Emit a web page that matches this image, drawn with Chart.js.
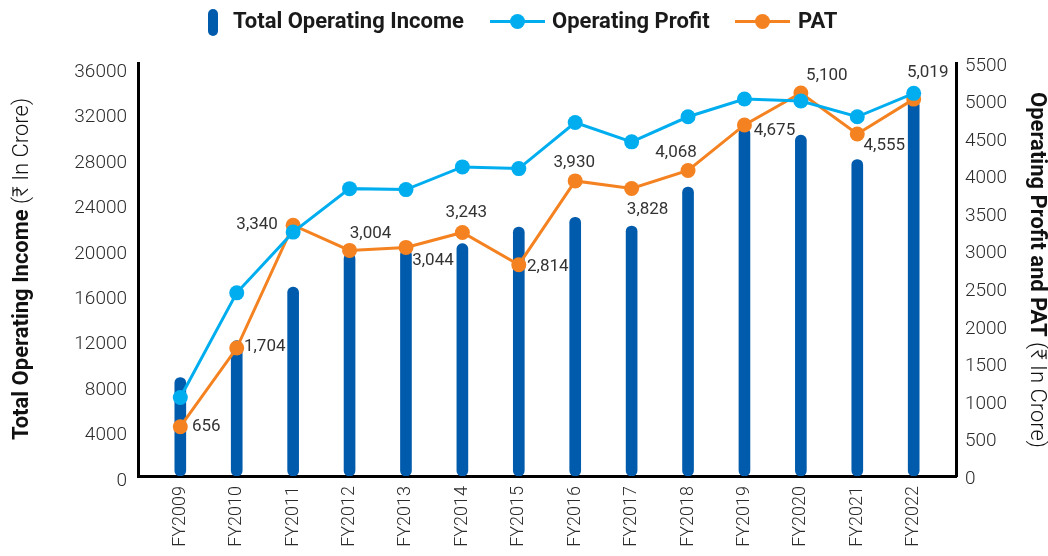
<!DOCTYPE html>
<html>
<head>
<meta charset="utf-8">
<script src="https://cdn.jsdelivr.net/npm/chart.js@4.4.1/dist/chart.umd.min.js"></script>
<style>
  html, body { margin: 0; padding: 0; background: #fff; }
  #wrap { position: relative; width: 1048px; height: 556px; overflow: hidden; }
  #chart { position: absolute; left: 0; top: 0; }
  .lg { position: absolute; font-family: Roboto, "Noto Sans", sans-serif; font-weight: 700; font-size: 22px; color: #1a1a1a; white-space: nowrap; line-height: 26px; top: 8px; }
  .pill { position: absolute; left: 208px; top: 9px; width: 10px; height: 27px; border-radius: 5px; background: #005BAC; }
  .ln { position: absolute; top: 20px; width: 55px; height: 3px; }
  .dot { position: absolute; top: 14px; width: 15px; height: 15px; border-radius: 50%; }
</style>
</head>
<body>
<div id="wrap">
  <canvas id="chart" width="1048" height="556"></canvas>
  <div class="pill"></div>
  <div class="lg" style="left:233px">Total Operating Income</div>
  <div class="ln" style="left:490px;background:#00AEEF"></div>
  <div class="dot" style="left:510px;background:#00AEEF"></div>
  <div class="lg" style="left:552px">Operating Profit</div>
  <div class="ln" style="left:735px;background:#F58220"></div>
  <div class="dot" style="left:755px;background:#F58220"></div>
  <div class="lg" style="left:798px">PAT</div>
</div>
<script>
// ---- data ----
const categories = ['FY2009','FY2010','FY2011','FY2012','FY2013','FY2014','FY2015','FY2016','FY2017','FY2018','FY2019','FY2020','FY2021','FY2022'];
const totalOperatingIncome = [8670, 11910, 16620, 19590, 19940, 20450, 21910, 22770, 22000, 25440, 30620, 30000, 27860, 33090];
const operatingProfit = [1045, 2439, 3248, 3827, 3814, 4116, 4094, 4708, 4450, 4784, 5020, 4993, 4784, 5096];
const pat = [656, 1704, 3340, 3004, 3044, 3243, 2814, 3930, 3828, 4068, 4675, 5100, 4555, 5019];
const leftTickValues = [0, 4000, 8000, 12000, 16000, 20000, 24000, 28000, 32000, 36000];
const rightTickValues = [0, 500, 1000, 1500, 2000, 2500, 3000, 3500, 4000, 4500, 5000, 5500];

// ---- label placement (style only): offset of label centre from its point ----
const patLabelOffsets = [[26,0],[28,-1],[-36,0],[21,-17],[27,13],[4,-20],[29,2],[-1,-18],[16,21],[-12,-18],[30,6],[26,-17],[27,12],[14,-26]];

const FONT = 'Roboto, "Noto Sans", sans-serif';
const C_BAR = '#005BAC', C_OP = '#00AEEF', C_PAT = '#F58220';

const fmt = v => v.toLocaleString('en-US');

const patLabels = {
  id: 'patLabels',
  afterDatasetsDraw(chart) {
    const ctx = chart.ctx;
    const meta = chart.getDatasetMeta(2);
    ctx.save();
    ctx.font = '400 17px ' + FONT;
    ctx.fillStyle = '#333';
    ctx.textAlign = 'center';
    ctx.textBaseline = 'middle';
    meta.data.forEach((pt, i) => {
      const o = patLabelOffsets[i];
      ctx.fillText(fmt(pat[i]), pt.x + o[0], pt.y + o[1]);
    });
    ctx.restore();
  }
};

const axisTitles = {
  id: 'axisTitles',
  afterDraw(chart) {
    const ctx = chart.ctx;
    function drawTitle(x, cy, rot, boldTxt, regTxt) {
      ctx.save();
      ctx.translate(x, cy);
      ctx.rotate(rot);
      ctx.textBaseline = 'middle';
      ctx.fillStyle = '#111';
      const bf = '700 22px ' + FONT, rf = '300 22px ' + FONT;
      ctx.font = bf; const wb = ctx.measureText(boldTxt).width;
      ctx.font = rf; const wr = ctx.measureText(regTxt).width;
      const start = -(wb + wr) / 2;
      ctx.textAlign = 'left';
      ctx.font = bf; ctx.fillText(boldTxt, start, 0);
      ctx.font = rf; ctx.fillText(regTxt, start + wb, 0);
      ctx.restore();
    }
    drawTitle(22, 269, -Math.PI / 2, 'Total Operating Income', ' (\u20B9 In Crore)');
    drawTitle(1036, 270, Math.PI / 2, 'Operating Profit and PAT', ' (\u20B9 In Crore)');
  }
};

const plain = v => String(v);

new Chart(document.getElementById('chart'), {
  data: {
    labels: categories,
    datasets: [
      { type: 'bar', label: 'Total Operating Income', data: totalOperatingIncome, yAxisID: 'yL',
        backgroundColor: C_BAR, barThickness: 11, borderRadius: 6, borderSkipped: false, order: 2 },
      { type: 'line', label: 'Operating Profit', data: operatingProfit, yAxisID: 'yR',
        borderColor: C_OP, backgroundColor: C_OP, borderWidth: 3, pointRadius: 7.5, pointHoverRadius: 7.5,
        pointBorderWidth: 0, tension: 0, order: 0 },
      { type: 'line', label: 'PAT', data: pat, yAxisID: 'yR',
        borderColor: C_PAT, backgroundColor: C_PAT, borderWidth: 3, pointRadius: 7.5, pointHoverRadius: 7.5,
        pointBorderWidth: 0, tension: 0, order: 1 }
    ]
  },
  options: {
    responsive: false,
    animation: false,
    layout: { padding: { top: 63, left: 0, right: 0, bottom: 0 } },
    plugins: { legend: { display: false }, tooltip: { enabled: false } },
    scales: {
      x: {
        offset: true,
        grid: { display: false, drawTicks: false },
        border: { display: true, color: '#000', width: 3 },
        ticks: { minRotation: 90, maxRotation: 90, padding: 10, color: '#2b2b2b', font: { family: FONT, size: 18, weight: 300 } },
        afterBuildTicks(scale) { scale._startValue = -0.75; scale._valueRange = categories.length + 0.5; },
        afterFit(scale) { scale.height = 556 - 476; }
      },
      yL: {
        position: 'left', min: 0, max: 36353,
        grid: { display: false, drawTicks: false },
        border: { display: true, color: '#000', width: 3 },
        ticks: { padding: 11, labelOffset: 5, color: '#2b2b2b', callback: plain, font: { family: FONT, size: 19, weight: 300 } },
        afterBuildTicks(scale) { scale.ticks = leftTickValues.map(v => ({ value: v })); },
        afterFit(scale) { scale.width = 138; }
      },
      yR: {
        position: 'right', min: 0, max: 5500,
        grid: { display: false, drawTicks: false },
        border: { display: true, color: '#000', width: 3 },
        ticks: { padding: 9, labelOffset: 3, color: '#2b2b2b', callback: plain, font: { family: FONT, size: 19, weight: 300 } },
        afterBuildTicks(scale) { scale.ticks = rightTickValues.map(v => ({ value: v })); },
        afterFit(scale) { scale.width = 1048 - 956; }
      }
    }
  },
  plugins: [patLabels, axisTitles]
});
</script>
</body>
</html>
